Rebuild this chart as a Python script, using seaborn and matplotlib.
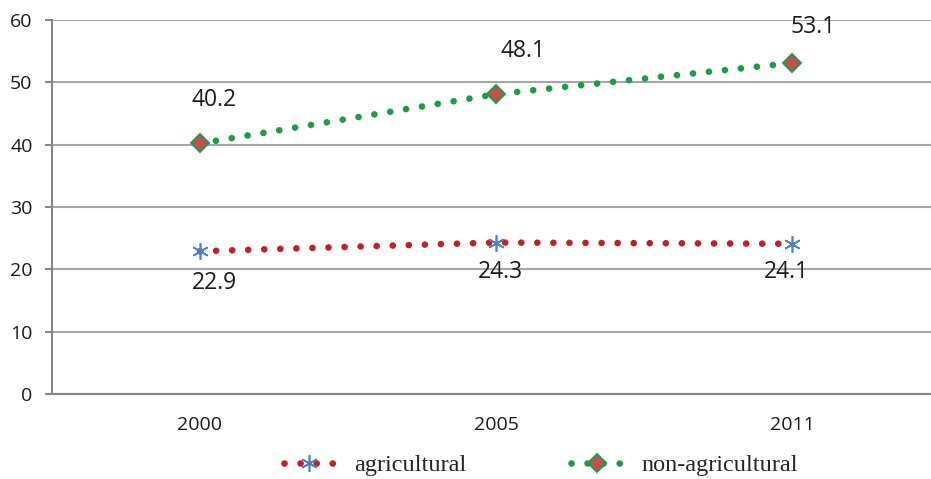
import numpy as np
import pandas as pd
import matplotlib
matplotlib.use('Agg')
import matplotlib.pyplot as plt
import seaborn as sns

# ── Data ──────────────────────────────────────────────────────────────────────
years = ['2000', '2005', '2011']
agricultural = [22.9, 24.3, 24.1]
non_agricultural = [40.2, 48.1, 53.1]
y_ticks = [0, 10, 20, 30, 40, 50, 60]

# label offsets in pixels (x, y) relative to each point
agri_offsets = [(14, -32), (4, -29), (-6, -28)]
nonagri_offsets = [(14, 43), (27, 43), (21, 36)]

sns.set_style('white')
plt.rcParams['font.family'] = ['Open Sans', 'DejaVu Sans']

df = pd.DataFrame({
    'pos': np.arange(len(years)),
    'agricultural': agricultural,
    'non-agricultural': non_agricultural,
})

fig = plt.figure(figsize=(9.31, 4.79), dpi=100)
ax = fig.add_axes([52 / 931, 85 / 479, 888 / 931, 374 / 479])

lw = 4.8
dots = (0, (0.01, 2.4))

sns.lineplot(data=df, x='pos', y='agricultural', ax=ax, color='#C0202A',
             lw=lw, linestyle=dots, dash_capstyle='round',
             marker=(6, 2, 0), markersize=12, markeredgecolor='#4F81BD',
             markeredgewidth=1.2, label='agricultural', zorder=3)
sns.lineplot(data=df, x='pos', y='non-agricultural', ax=ax, color='#1E9B4A',
             lw=lw, linestyle=dots, dash_capstyle='round',
             marker='D', markersize=9, markerfacecolor='#C0504D',
             markeredgecolor='#1E9B4A', markeredgewidth=1.4,
             label='non-agricultural', zorder=3)

# data labels
for i, v in enumerate(agricultural):
    ax.annotate(f'{v:.1f}', (i, v), xytext=agri_offsets[i], textcoords='offset pixels',
                ha='center', va='center', fontsize=16.5, color='#1a1a1a')
for i, v in enumerate(non_agricultural):
    ax.annotate(f'{v:.1f}', (i, v), xytext=nonagri_offsets[i], textcoords='offset pixels',
                ha='center', va='center', fontsize=16.5, color='#1a1a1a')

# axes
ax.set_xlim(-0.5, len(years) - 0.5)
ax.set_ylim(0, 60)
ax.set_yticks(y_ticks)
ax.yaxis.grid(True, color='#A6A6A6', lw=1.5)
ax.set_axisbelow(True)
ax.set_xticks(np.arange(len(years) + 1) - 0.5)
ax.set_xticklabels([])
ax.set_xticks(np.arange(len(years)), minor=True)
ax.set_xticklabels(years, minor=True)
ax.tick_params(axis='x', which='major', length=5, width=1.5, color='#868686', direction='out')
ax.tick_params(axis='x', which='minor', length=0, pad=16, labelsize=14, labelcolor='#1a1a1a')
ax.tick_params(axis='y', length=5, width=1.5, color='#868686', direction='out', pad=9,
               labelsize=14, labelcolor='#1a1a1a', left=True)
ax.set_xlabel('')
ax.set_ylabel('')
for s in ['top', 'right']:
    ax.spines[s].set_visible(False)
for s in ['left', 'bottom']:
    ax.spines[s].set_color('#868686')
    ax.spines[s].set_linewidth(1.5)

ax.legend(loc='center', bbox_to_anchor=(541 / 931, 1 - 465 / 479),
          bbox_transform=fig.transFigure, ncol=2, frameon=False,
          prop={'family': 'Liberation Serif', 'size': 17.5},
          handlelength=2.1, handletextpad=0.8, columnspacing=4.3)

fig.savefig('out.png', dpi=100)
